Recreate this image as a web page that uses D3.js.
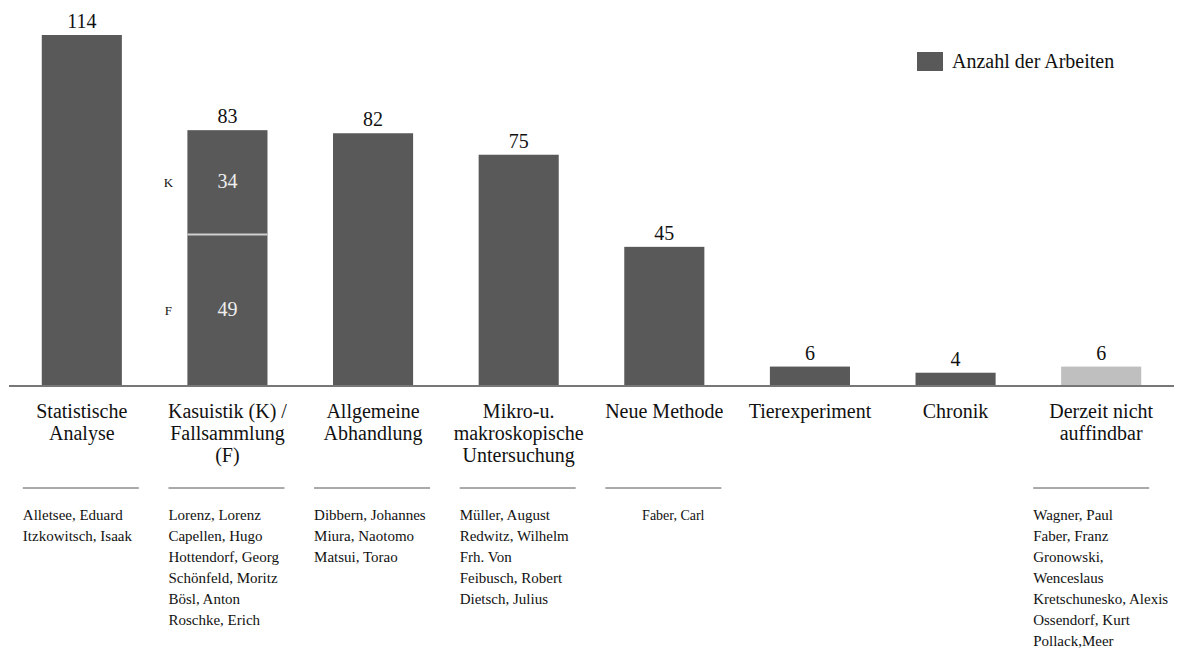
<!DOCTYPE html>
<html>
<head>
<meta charset="utf-8">
<script src="https://cdn.jsdelivr.net/npm/d3@7"></script>
</head>
<body style="margin:0; background:#fff">
<svg id="chart" width="1200" height="656"></svg>
<script>
// categories (label lines) and counts
var categories = [
    ["Statistische", "Analyse"],
    ["Kasuistik (K) /", "Fallsammlung", "(F)"],
    ["Allgemeine", "Abhandlung"],
    ["Mikro-u.", "makroskopische", "Untersuchung"],
    ["Neue Methode"],
    ["Tierexperiment"],
    ["Chronik"],
    ["Derzeit nicht", "auffindbar"]
];
var counts = [114, 83, 82, 75, 45, 6, 4, 6];
var missing = [false, false, false, false, false, false, false, true];

// split of the Kasuistik / Fallsammlung bar
var splitParts = [{ key: "F", value: 49 }, { key: "K", value: 34 }];

// authors listed under each category
var authors = [
    ["Alletsee, Eduard", "Itzkowitsch,  Isaak"],
    ["Lorenz,  Lorenz", "Capellen, Hugo", "Hottendorf,  Georg", "Schönfeld, Moritz", "Bösl, Anton", "Roschke,  Erich"],
    ["Dibbern, Johannes", "Miura, Naotomo", "Matsui,  Torao"],
    ["Müller, August", "Redwitz, Wilhelm", "Frh. Von", "Feibusch, Robert", "Dietsch, Julius"],
    ["Faber, Carl"],
    [],
    [],
    ["Wagner,  Paul", "Faber, Franz", "Gronowski,", "Wenceslaus", "Kretschunesko,  Alexis", "Ossendorf,  Kurt", "Pollack,Meer"]
];

var legendLabel = "Anzahl der Arbeiten";

var FONT = "Liberation Serif";
var svg = d3.select("#chart");
var idx = d3.range(categories.length);

var x = d3.scaleBand().domain(idx).range([9, 1174]).paddingInner(0.45).paddingOuter(0.225);
var y = d3.scaleLinear().domain([0, 114]).range([385, 35]);

var dark = "#595959", light = "#bfbfbf";

function label(sel, size) {
    return sel.attr("font-family", FONT).attr("font-size", size).attr("fill", "#111");
}

// bars
svg.selectAll("rect.bar").data(idx).join("rect")
    .attr("class", "bar")
    .attr("x", i => x(i))
    .attr("y", i => y(counts[i]))
    .attr("width", x.bandwidth())
    .attr("height", i => y(0) - y(counts[i]))
    .attr("fill", i => missing[i] ? light : dark);

// value labels above bars
svg.selectAll("text.val").data(idx).join("text")
    .attr("class", "val")
    .attr("x", i => x(i) + x.bandwidth() / 2)
    .attr("y", i => y(counts[i]) - 7)
    .attr("text-anchor", "middle")
    .call(label, 20)
    .text(i => counts[i]);

// split inside bar 2
var kx = x(1);
var cum = 0;
splitParts.forEach(function (p, j) {
    var y0 = y(cum), y1 = y(cum + p.value);
    svg.append("text")
        .attr("x", kx + x.bandwidth() / 2)
        .attr("y", (y0 + y1) / 2 + 6)
        .attr("text-anchor", "middle")
        .call(label, 20)
        .attr("fill", "#eeeeee")
        .text(p.value);
    svg.append("text")
        .attr("x", kx - 19)
        .attr("y", (y0 + y1) / 2 + 5)
        .attr("text-anchor", "middle")
        .call(label, 13)
        .text(p.key);
    cum += p.value;
    if (j === 0) {
        svg.append("line")
            .attr("x1", kx).attr("x2", kx + x.bandwidth())
            .attr("y1", y1).attr("y2", y1)
            .attr("stroke", "#d0d0d0").attr("stroke-width", 2);
    }
});

// baseline
svg.append("line")
    .attr("x1", 9).attr("x2", 1174)
    .attr("y1", y(0) + 1).attr("y2", y(0) + 1)
    .attr("stroke", "#777").attr("stroke-width", 2);

// category labels
svg.selectAll("text.cat").data(idx).join("text")
    .attr("class", "cat")
    .attr("text-anchor", "middle")
    .call(label, 20)
    .each(function (i) {
        var cx = x(i) + x.bandwidth() / 2;
        d3.select(this).selectAll("tspan").data(categories[i]).join("tspan")
            .attr("x", cx)
            .attr("y", (d, k) => 418 + k * 22)
            .text(d => d);
    });

// divider lines and author lists (last column sits a bit left of its bar)
idx.forEach(function (i) {
    if (!authors[i].length) return;
    var cx = x(i) + x.bandwidth() / 2 - (i === 7 ? 10 : 1);
    svg.append("line")
        .attr("x1", cx - 58).attr("x2", cx + 58)
        .attr("y1", 488).attr("y2", 488)
        .attr("stroke", "#555").attr("stroke-width", 1);
    var single = authors[i].length === 1;
    svg.append("text")
        .attr("text-anchor", single ? "middle" : "start")
        .call(label, single ? 14 : 15)
        .selectAll("tspan").data(authors[i]).join("tspan")
        .attr("x", single ? cx + 10 : cx - 58)
        .attr("y", (d, k) => 520 + k * 21)
        .text(d => d);
});

// legend
svg.append("rect").attr("x", 917).attr("y", 52).attr("width", 26).attr("height", 19).attr("fill", dark);
svg.append("text").attr("x", 952).attr("y", 68).call(label, 20).text(legendLabel);
</script>
</body>
</html>
